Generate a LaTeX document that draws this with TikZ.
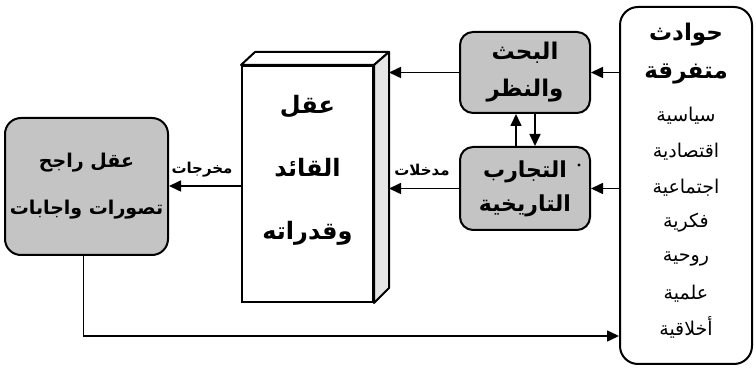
\documentclass[tikz,border=0pt]{standalone}
\usepackage{fontspec}
\newfontfamily\arabicfont[Script=Arabic]{DejaVu Sans}
\TeXXeTstate=1
\usetikzlibrary{arrows.meta,calc}
\newcommand\artxt[1]{\beginR #1\endR}
\definecolor{halftone}{gray}{0.77}
\definecolor{sidegray}{gray}{0.90}
\tikzset{
  box/.style={draw=black, line width=2pt, inner sep=0pt, align=center},
  graybox/.style={box, fill=halftone, rounded corners=13pt},
  arr/.style={draw=black, line width=1.6pt, -{Triangle[length=12pt,width=11pt]}},
  boldar/.style={font=\arabicfont\bfseries\fontsize{#1}{#1}\selectfont, inner sep=0pt},
  plainar/.style={font=\arabicfont\fontsize{#1}{#1}\selectfont, inner sep=0pt},
}
\begin{document}
\begin{tikzpicture}[x=1pt,y=-1pt]
\useasboundingbox[fill=white] (0,0) rectangle (756,371);

% right box: events
\node[box, rounded corners=18pt, minimum width=132pt, minimum height=357pt] (events) at (686,185.5) {};
\node[boldar=23] (ev1) at (686,35) {\artxt{حوادث}};
\node[boldar=23] (ev2) at (686,74) {\artxt{متفرقة}};
\node[plainar=19] (ev3) at (686,116) {\artxt{سياسية}};
\node[plainar=19] (ev4) at (686,152) {\artxt{اقتصادية}};
\node[plainar=19] (ev5) at (686,188) {\artxt{اجتماعية}};
\node[plainar=19] (ev6) at (686,223) {\artxt{فكرية}};
\node[plainar=19] (ev7) at (686,259) {\artxt{روحية}};
\node[plainar=19] (ev8) at (686,294) {\artxt{علمية}};
\node[plainar=19] (ev9) at (686,327) {\artxt{أخلاقية}};

% middle boxes
\node[graybox, minimum width=130pt, minimum height=81pt,
      font=\arabicfont\bfseries\fontsize{23}{37}\selectfont] (research) at (525,72.5)
      {\artxt{البحث}\\\artxt{والنظر}};
\node[graybox, minimum width=130pt, minimum height=83pt,
      font=\arabicfont\bfseries\fontsize{22}{34}\selectfont] (exp) at (525,188.5)
      {\artxt{التجارب}\\\artxt{التاريخية}};
\fill (579,165) circle (1.6pt);

% 3D box: leader's mind
\node[box, fill=white, minimum width=131pt, minimum height=236pt] (brain) at (307.5,184) {};
\draw[line width=2pt, line join=round, fill=white]
  (brain.north west) -- ++(14,-13) -- ($(brain.north east)+(15,-13)$) -- (brain.north east) -- cycle;
\draw[line width=2pt, line join=round, fill=sidegray]
  (brain.north east) -- ++(15,-13) -- ($(brain.south east)+(15,-15)$) -- (brain.south east) -- cycle;
\coordinate (bside) at ($(brain.east)+(15,0)$);
\node[align=center, inner sep=0pt, font=\arabicfont\bfseries\fontsize{24}{63}\selectfont] (braintext) at (307.5,170)
  {\artxt{عقل}\\\artxt{القائد}\\\artxt{وقدراته}};

% left box
\node[graybox, rounded corners=16pt, minimum width=163pt, minimum height=137pt,
      font=\arabicfont\bfseries\fontsize{19}{47}\selectfont] (judge) at (86.5,186.5)
      {\artxt{عقل راجح}\\\artxt{تصورات واجابات}};

% connectors
\draw[arr] (research.east -| events.west) -- (research.east);
\draw[arr] (exp.east -| events.west) -- (exp.east);
\draw[arr] (research.west) -- (research.west -| bside);
\draw[arr] (exp.west) -- (exp.west -| bside);
\draw[arr] ([xshift=-9pt]exp.north) -- ([xshift=-9pt]research.south);
\draw[arr] ([xshift=10pt]research.south) -- ([xshift=10pt]exp.north);
\draw[arr] ([yshift=-2pt]brain.west) -- ([yshift=-2pt]brain.west -| judge.east);
\draw[arr] ([xshift=-3pt]judge.south) |- ([yshift=-150.5pt]events.west);

% labels
\node[boldar=15] (outlbl) at (202,170) {\artxt{مخرجات}};
\node[boldar=15] (inlbl) at (422,170) {\artxt{مدخلات}};
\end{tikzpicture}
\end{document}
